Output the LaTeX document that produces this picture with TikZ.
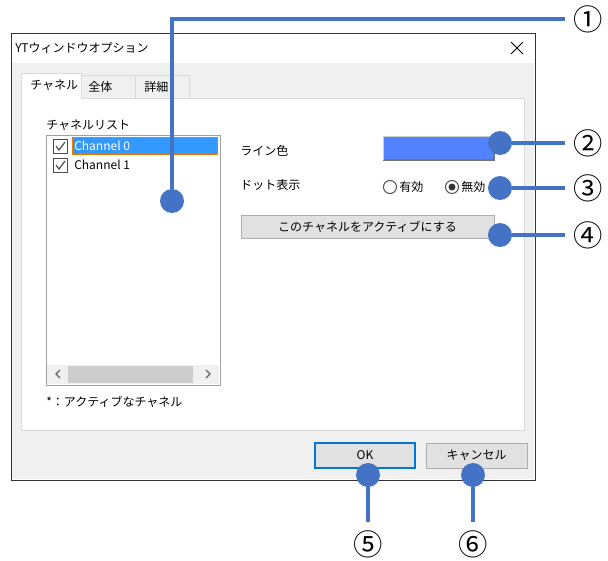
\documentclass[tikz,border=0pt]{standalone}
\usepackage{fontspec}
\setmainfont{Noto Sans CJK JP}
\usetikzlibrary{positioning}
\definecolor{calloutblue}{RGB}{68,114,196}
\definecolor{bodygray}{RGB}{240,240,240}
\definecolor{tabline}{RGB}{217,217,217}
\definecolor{btngray}{RGB}{225,225,225}
\definecolor{btnline}{RGB}{173,173,173}
\definecolor{okblue}{RGB}{0,120,215}
\definecolor{selblue}{RGB}{51,153,255}
\definecolor{linecol}{RGB}{82,130,255}
\definecolor{listline}{RGB}{160,160,160}
\definecolor{thumbgray}{RGB}{205,205,205}
\begin{document}
\begin{tikzpicture}[x=0.75pt,y=-0.75pt,
    uitext/.style={anchor=west,inner sep=0pt,font=\fontsize{9}{11}\selectfont},
    button/.style={draw=btnline,fill=btngray,line width=0.75pt,inner sep=0pt,
      minimum height=18.75pt,font=\fontsize{9}{11}\selectfont},
    dot/.style={circle,fill=calloutblue,minimum size=18pt,inner sep=0pt},
    num/.style={inner sep=6pt,font=\fontsize{22}{22}\selectfont},
    callout/.style={draw=calloutblue,line width=3pt}]
    \useasboundingbox (0,0) rectangle (608,561);
    % window frame and title bar
    \draw[fill=white,line width=0.75pt,draw=black!80] (11,33) rectangle (535,480);
    \fill[bodygray] (12,63) rectangle (534,479);
    \node[uitext] (title) at (15,48) {YTウィンドウオプション};
    \draw[line width=0.75pt] (511,42) -- (523,54) (511,54) -- (523,42);
    % tab panel and tabs
    \draw[fill=white,draw=tabline,line width=0.75pt] (21,98) rectangle (524,430);
    \draw[fill=bodygray,draw=tabline,line width=0.75pt] (81,75) rectangle (135,98);
    \draw[fill=bodygray,draw=tabline,line width=0.75pt] (135,75) rectangle (189,98);
    \fill[white] (21,73) rectangle (81,99);
    \draw[draw=tabline,line width=0.75pt] (21,99) -- (21,73) -- (81,73) -- (81,98);
    \node[uitext] (tabch) at (30,85) {チャネル};
    \node[uitext] (taball) at (88,87) {全体};
    \node[uitext] (tabdet) at (144,87) {詳細};
    % channel list
    \node[uitext] (listlabel) at (46,125) {チャネルリスト};
    \draw[fill=white,draw=listline,line width=0.75pt] (46,135) rectangle (220,385);
    \fill[selblue] (72,137) rectangle (218,155);
    \draw[orange,densely dotted,line width=0.5pt] (72.5,137.5) rectangle (217.5,154.5);
    \draw[fill=white,draw=black!70,line width=0.75pt] (53,139) rectangle (67,153);
    \draw[black!70,line width=0.9pt] (56,146) -- (59,150) -- (65,142);
    \draw[fill=white,draw=black!70,line width=0.75pt] (53,158) rectangle (67,172);
    \draw[black!70,line width=0.9pt] (56,165) -- (59,169) -- (65,161);
    \node[uitext,text=white] (ch0) at (74,146) {Channel 0};
    \node[uitext] (ch1) at (74,165) {Channel 1};
    % scroll bar
    \fill[bodygray] (47,365) rectangle (219,384);
    \fill[thumbgray] (68,366) rectangle (193,383);
    \draw[black!60,line width=1pt] (60,370) -- (56,374) -- (60,378);
    \draw[black!60,line width=1pt] (206,370) -- (210,374) -- (206,378);
    \node[uitext] (note) at (46,402) {*：アクティブなチャネル};
    % line colour and dot settings
    \node[uitext] (linelabel) at (240,151) {ライン色};
    \fill[linecol] (383,136) rectangle (494,160);
    \draw[black!55,line width=1pt] (383,160) -- (494,160) -- (494,136);
    \draw[black!20,line width=0.75pt] (383,160) -- (383,136) -- (494,136);
    \node[uitext] (dotlabel) at (240,185) {ドット表示};
    \draw[fill=white,draw=black!70,line width=0.75pt] (390,187) circle[radius=4.9pt];
    \node[uitext] (radioon) at (399,187) {有効};
    \draw[fill=white,draw=black!70,line width=0.75pt] (452,187) circle[radius=4.9pt];
    \fill[black!80] (452,187) circle[radius=2.6pt];
    \node[uitext] (radiooff) at (461,187) {無効};
    % buttons
    \node[button,minimum width=189.75pt,minimum height=17.25pt] (activebtn) at (367.5,226.5) {このチャネルをアクティブにする};
    \node[button,draw=okblue,line width=1.5pt,minimum width=75pt] (okbtn) at (365,455.5) {OK};
    \node[button,minimum width=75.75pt] (cancelbtn) at (476.5,455.5) {キャンセル};
    % callouts
    \node[dot] (dot1) at (172,201) {};
    \node[num] (num1) at (588,19) {①};
    \draw[callout] (dot1) |- (num1);
    \node[dot] (dot2) at (500,143) {};
    \node[num] (num2) at (588,143) {②};
    \draw[callout] (dot2) -- (num2);
    \node[dot] (dot3) at (500,188) {};
    \node[num] (num3) at (588,188) {③};
    \draw[callout] (dot3) -- (num3);
    \node[dot] (dot4) at (500,235) {};
    \node[num] (num4) at (588,235) {④};
    \draw[callout] (dot4) -- (num4);
    \node[dot] (dot5) at (368,475) {};
    \node[num] (num5) at (368,544) {⑤};
    \draw[callout] (dot5) -- (num5);
    \node[dot] (dot6) at (473,475) {};
    \node[num] (num6) at (473,544) {⑥};
    \draw[callout] (dot6) -- (num6);
\end{tikzpicture}
\end{document}
